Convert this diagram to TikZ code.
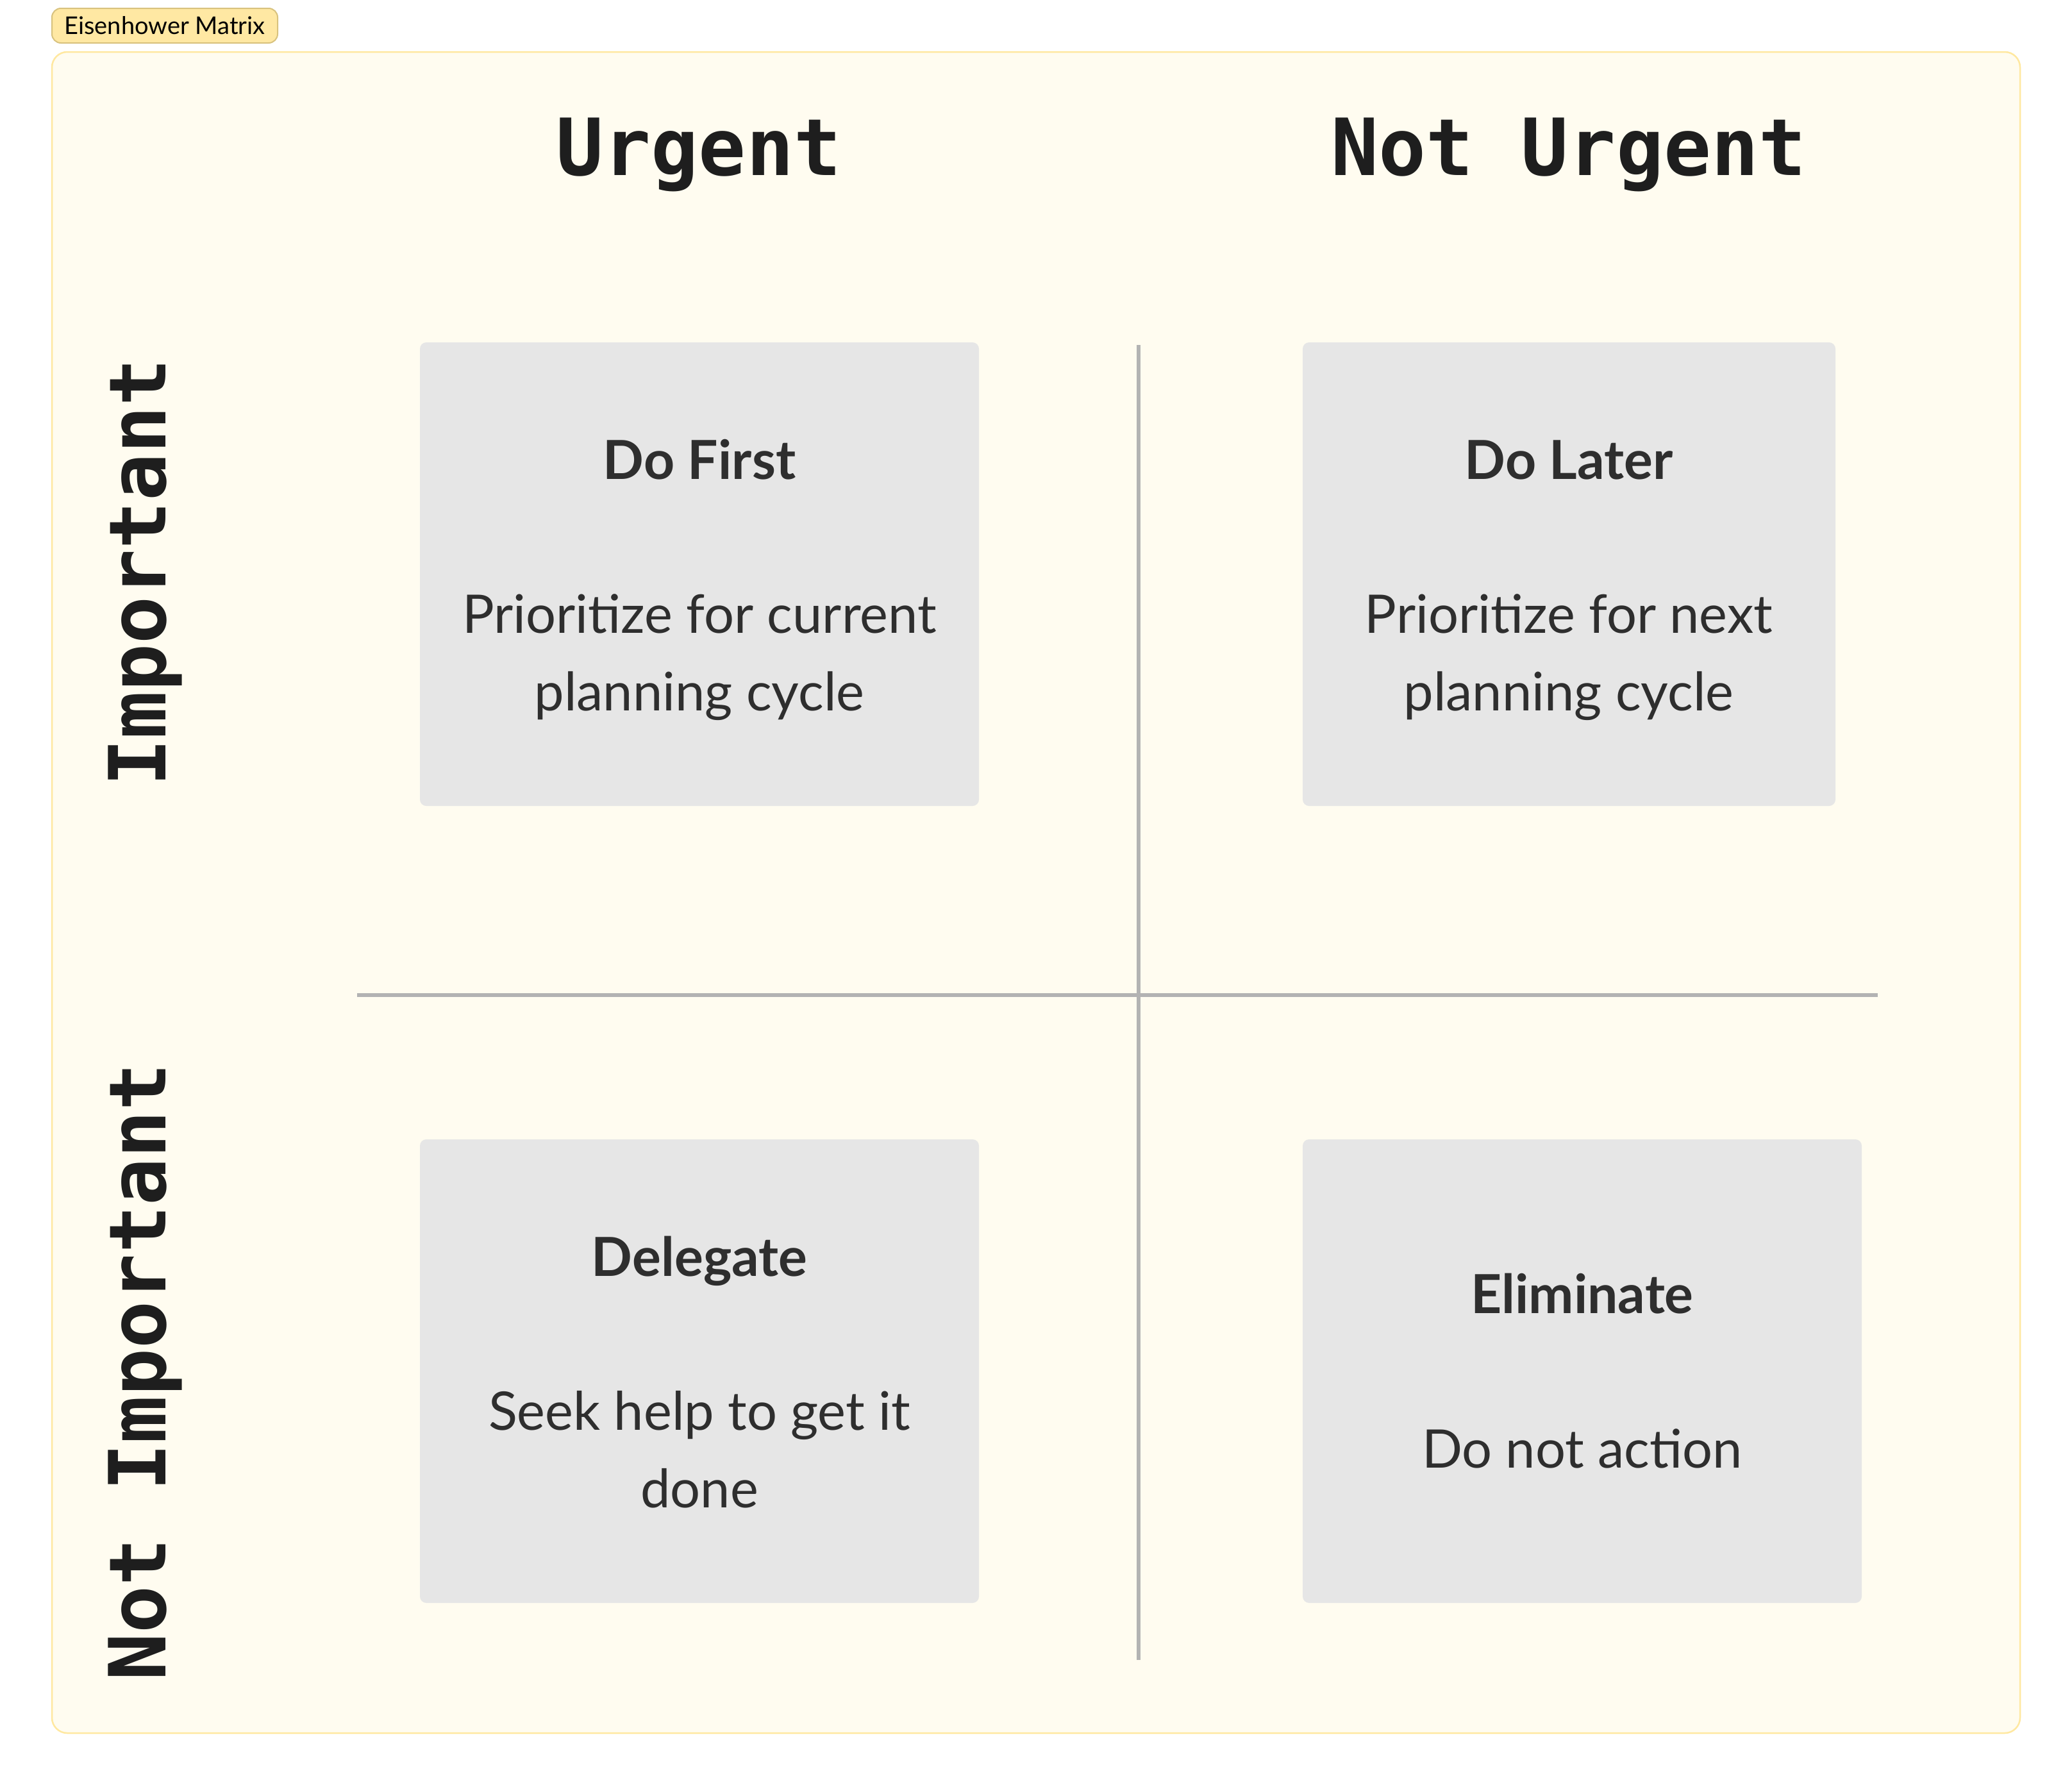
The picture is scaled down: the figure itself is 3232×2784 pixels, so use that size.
\documentclass[tikz,border=0pt]{standalone}
\usepackage{fontspec}
\setmainfont{Lato}
\newfontfamily\monofont{DejaVu Sans Mono}
\definecolor{panelfill}{HTML}{FFFCF0}
\definecolor{paneldraw}{HTML}{FFE8A0}
\definecolor{boxfill}{HTML}{E6E6E6}
\definecolor{divider}{HTML}{B3B3B3}
\definecolor{tagfill}{HTML}{FFE8A3}
\definecolor{tagdraw}{HTML}{D8C27E}
\definecolor{bodytext}{HTML}{2E2E2E}
\definecolor{headtext}{HTML}{1E1E1E}
\begin{document}
\begin{tikzpicture}[x=1pt,y=-1pt,
  qbox/.style={rectangle, rounded corners=10pt, fill=boxfill, draw=none, inner sep=0pt, outer sep=0pt},
  qtitle/.style={anchor=base, inner sep=0pt, text=bodytext, font=\fontsize{84}{100}\selectfont\bfseries},
  qbody/.style={anchor=base, inner sep=0pt, text=bodytext, font=\fontsize{83}{100}\selectfont},
  axishead/.style={anchor=base, inner sep=0pt, text=headtext, font=\monofont\fontsize{123}{140}\selectfont\bfseries},
  divline/.style={draw=divider, line width=6pt},
  tagbox/.style={rectangle, rounded corners=14pt, fill=tagfill, draw=tagdraw, line width=2pt,
    minimum width=352pt, minimum height=54pt, inner sep=0pt, font=\fontsize{38}{42}\selectfont, text=black}
]
\useasboundingbox[fill=white] (0,0) rectangle (3232,2784);

% container
\draw[fill=panelfill, draw=paneldraw, line width=2.5pt, rounded corners=24pt] (81,81) rectangle (3151,2703);

% tag
\node[tagbox] (tag) at (257,40) {Eisenhower Matrix};

% headers
\node[axishead] (urgent) at (1090,273) {Urgent};
\node[axishead] (noturgent) at (2447,273) {Not Urgent};
\node[axishead, rotate=90] (important) at (258,893) {Important};
\node[axishead, rotate=90] (notimportant) at (258,2140) {Not Important};

% dividers
\coordinate (vtop) at (1776,538);
\coordinate (vbot) at (1776,2589);
\coordinate (hleft) at (557,1552);
\coordinate (hright) at (2929,1552);
\draw[divline] (vtop) -- (vbot);
\draw[divline] (hleft) -- (hright);

% quadrant boxes
\node[qbox, minimum width=872pt, minimum height=723pt] (dofirst) at (1091,895.5) {};
\node[qbox, minimum width=831pt, minimum height=723pt] (dolater) at (2447.5,895.5) {};
\node[qbox, minimum width=872pt, minimum height=723pt] (delegate) at (1091,2138.5) {};
\node[qbox, minimum width=872pt, minimum height=723pt] (eliminate) at (2468,2138.5) {};

% texts
\node[qtitle] (dofirstT) at (1091,747) {Do First};
\node[qbody] (dofirstA) at (1091,987) {Prioritize for current};
\node[qbody] (dofirstB) at (1091,1108) {planning cycle};

\node[qtitle] (dolaterT) at (2447,747) {Do Later};
\node[qbody] (dolaterA) at (2447,987) {Prioritize for next};
\node[qbody] (dolaterB) at (2447,1108) {planning cycle};

\node[qtitle] (delegateT) at (1091,1990) {Delegate};
\node[qbody] (delegateA) at (1091,2230) {Seek help to get it};
\node[qbody] (delegateB) at (1091,2351) {done};

\node[qtitle] (eliminateT) at (2468,2048) {Eliminate};
\node[qbody] (eliminateA) at (2468,2289) {Do not action};
\end{tikzpicture}
\end{document}
